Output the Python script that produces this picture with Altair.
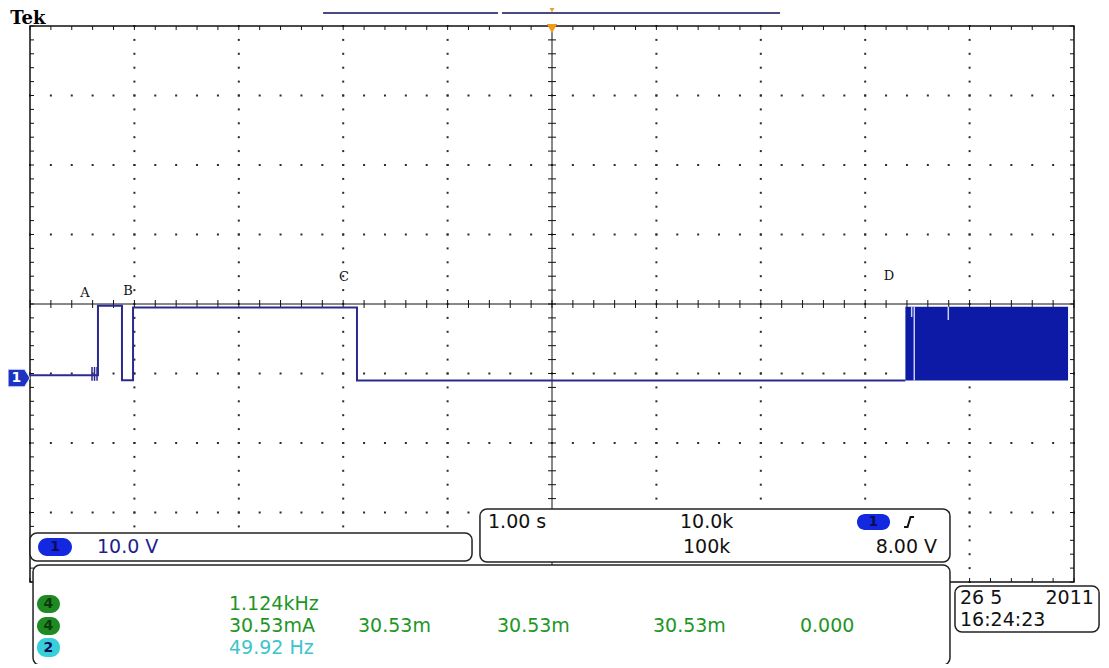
import altair as alt
import pandas as pd

# ---------------- scales (1 s/div, 10 V/div, ground 1.04 div below centre) ----------------
T_MIN, T_MAX = 0.0, 10.0
V_MIN, V_MAX = -29.64, 50.36
T_CENTRE = 5.0
V_CENTRE = 10.36

# ---------------- channel 1 waveform ----------------
trace_t = [0.0, 0.651, 0.651, 0.881, 0.881, 0.987, 0.987, 3.132, 3.132, 8.385]
trace_v = [0.1, 0.1, 10.1, 10.1, -0.6, -0.6, 9.85, 9.85, -0.65, -0.65]

glitch_t = [0.594, 0.618, 0.642]
glitch_lo = [-0.7, -0.7, -0.7]
glitch_hi = [1.3, 1.3, 1.3]

noise_t = [8.385]
noise_t2 = [9.943]
noise_lo = [-0.65]
noise_hi = [9.97]

gap_t = [8.445, 8.470, 8.796]
gap_lo = [8.49, -0.65, 8.06]
gap_hi = [9.97, 9.97, 9.97]

marker_labels = ["A", "B", "C", "D"]
marker_t = [0.527, 0.939, 3.008, 8.228]
marker_v = [11.94, 12.23, 14.24, 14.39]

# ---------------- readout texts ----------------
box_t = [0.0, 4.310, 0.029, 8.860]
box_t2 = [4.234, 8.812, 8.812, 10.240]
box_v = [-22.59, -19.14, -27.19, -30.22]
box_v2 = [-26.62, -26.76, -41.58, -36.83]

oval_t = [0.077, 7.921, 0.067, 0.067, 0.067]
oval_t2 = [0.402, 8.238, 0.287, 0.287, 0.287]
oval_v = [-23.31, -19.86, -31.51, -34.68, -37.70]
oval_v2 = [-25.90, -22.16, -34.10, -37.27, -40.43]
oval_fill = ["#1428e0", "#1428e0", "#1e8a22", "#1e8a22", "#38d0d8"]
oval_text = ["1", "1", "4", "4", "2"]
oval_text_col = ["#0c0c5a", "#0c0c5a", "#0a3a0c", "#0a3a0c", "#0c0c5a"]

left_text = ["10.0 V", "1.00 s", "10.0k", "100k",
             "1.124kHz", "30.53mA", "30.53m", "30.53m", "30.53m", "0.000",
             "49.92 Hz", "26 5", "16:24:23"]
left_t = [0.642, 4.387, 6.226, 6.255,
          1.906, 1.906, 3.142, 4.473, 5.967, 7.375,
          1.906, 8.908, 8.908]
left_v = [-24.6, -21.01, -21.01, -24.6,
          -32.81, -35.97, -35.97, -35.97, -35.97, -35.97,
          -39.07, -31.94, -35.11]
left_col = ["#1e1e8c", "#111111", "#111111", "#111111",
            "#1e9626", "#1e9626", "#1e9626", "#1e9626", "#1e9626", "#1e9626",
            "#3cc4cc", "#111111", "#111111"]

right_text = ["8.00 V", "2011"]
right_t = [8.688, 10.190]
right_v = [-24.6, -31.94]

# top record-length bar
bar_t = [2.807, 4.521]
bar_t2 = [4.483, 7.184]
bar_v = [52.23, 52.23]

# ---------------- graticule ----------------
minor_t = [i * 0.2 for i in range(51)]
minor_v = [V_MIN + j * 2.0 for j in range(41)]
major_t = [1, 2, 3, 4, 6, 7, 8, 9]
major_v = [V_MIN + 10.0 * k for k in (1, 2, 3, 5, 6, 7)]


def X(f="t"):
    return alt.X(f"{f}:Q", scale=alt.Scale(domain=[T_MIN, T_MAX], nice=False, zero=False), axis=None)


def Y(f="v"):
    return alt.Y(f"{f}:Q", scale=alt.Scale(domain=[V_MIN, V_MAX], nice=False, zero=False), axis=None)


def pts(ts, vs):
    return pd.DataFrame({"t": ts, "v": vs})


dots = pd.concat([
    pts([t for v in major_v for t in minor_t], [v for v in major_v for t in minor_t]),
    pts([t for t in major_t for v in minor_v], [v for t in major_t for v in minor_v]),
])

layers = []

# dotted grid
layers.append(alt.Chart(dots).mark_square(size=4, color="#2a2a2a", opacity=1).encode(x=X(), y=Y()))

# centre axes and border
layers.append(alt.Chart(pd.DataFrame({"t": [T_CENTRE], "v": [V_MIN], "v2": [V_MAX]}))
              .mark_rule(color="#111111", strokeWidth=1).encode(x=X(), y=Y(), y2="v2:Q"))
layers.append(alt.Chart(pd.DataFrame({"t": [T_MIN], "t2": [T_MAX], "v": [V_CENTRE]}))
              .mark_rule(color="#111111", strokeWidth=1).encode(x=X(), x2="t2:Q", y=Y()))
layers.append(alt.Chart(pd.DataFrame({"t": [T_MIN], "t2": [T_MAX], "v": [V_MIN], "v2": [V_MAX]}))
              .mark_rect(fillOpacity=0, stroke="#111111", strokeWidth=1.5)
              .encode(x=X(), x2="t2:Q", y=Y(), y2="v2:Q"))


def ticks(df, path, size):
    return alt.Chart(df).mark_point(shape=path, filled=False, color="#111111", strokeWidth=1,
                                    size=size, opacity=1).encode(x=X(), y=Y())


layers.append(ticks(pts(minor_t, [V_CENTRE] * len(minor_t)), "M0,-1L0,1", 64))
layers.append(ticks(pts([T_CENTRE] * len(minor_v), minor_v), "M-1,0L1,0", 64))
layers.append(ticks(pts(minor_t, [V_MAX] * len(minor_t)), "M0,0L0,2", 16))
layers.append(ticks(pts(minor_t, [V_MIN] * len(minor_t)), "M0,0L0,-2", 16))
layers.append(ticks(pts([T_MIN] * len(minor_v), minor_v), "M0,0L2,0", 16))
layers.append(ticks(pts([T_MAX] * len(minor_v), minor_v), "M0,0L-2,0", 16))

# waveform
trace_df = pd.DataFrame({"t": trace_t, "v": trace_v, "o": list(range(len(trace_t)))})
layers.append(alt.Chart(trace_df).mark_line(color="#2a2a92", strokeWidth=2)
              .encode(x=X(), y=Y(), order="o:Q"))
layers.append(alt.Chart(pd.DataFrame({"t": glitch_t, "v": glitch_lo, "v2": glitch_hi}))
              .mark_rule(color="#2a2a92", strokeWidth=1.5).encode(x=X(), y=Y(), y2="v2:Q"))
layers.append(alt.Chart(pd.DataFrame({"t": noise_t, "t2": noise_t2, "v": noise_lo, "v2": noise_hi}))
              .mark_rect(color="#0c1aa6").encode(x=X(), x2="t2:Q", y=Y(), y2="v2:Q"))
layers.append(alt.Chart(pd.DataFrame({"t": gap_t, "v": gap_lo, "v2": gap_hi}))
              .mark_rule(color="#c8d0f0", strokeWidth=1.5).encode(x=X(), y=Y(), y2="v2:Q"))

layers.append(alt.Chart(pd.DataFrame({"t": marker_t, "v": marker_v, "label": marker_labels}))
              .mark_text(font="DejaVu Serif", fontSize=13, color="#111111", align="center", baseline="middle")
              .encode(x=X(), y=Y(), text="label:N"))

# top bar, trigger markers, title
layers.append(alt.Chart(pd.DataFrame({"t": bar_t, "t2": bar_t2, "v": bar_v}))
              .mark_rule(color="#4a4a80", strokeWidth=2).encode(x=X(), x2="t2:Q", y=Y()))
layers.append(alt.Chart(pts([T_CENTRE], [52.75])).mark_point(shape="triangle-down", filled=True,
              color="#e8a030", size=40, opacity=1).encode(x=X(), y=Y()))
layers.append(alt.Chart(pts([T_CENTRE], [50.0])).mark_point(shape="triangle-down", filled=True,
              color="#f09a20", size=110, opacity=1).encode(x=X(), y=Y()))
layers.append(alt.Chart(pd.DataFrame({"t": [-0.19], "v": [50.6], "label": ["Tek"]}))
              .mark_text(font="DejaVu Serif", fontWeight="bold", fontSize=18, color="#000000",
                         align="left", baseline="alphabetic")
              .encode(x=X(), y=Y(), text="label:N"))

# channel 1 ground marker
layers.append(alt.Chart(pts([-0.105], [-0.29])).mark_point(
    shape="M-1,-0.8L0.5,-0.8L1,0L0.5,0.8L-1,0.8Z", filled=True, color="#1c34c0",
    stroke="#e0e0ff", strokeWidth=1, size=480, opacity=1).encode(x=X(), y=Y()))
layers.append(alt.Chart(pd.DataFrame({"t": [-0.13], "v": [-0.29], "label": ["1"]}))
              .mark_text(font="DejaVu Sans", fontWeight="bold", fontSize=14, color="#ffffff",
                         align="center", baseline="middle")
              .encode(x=X(), y=Y(), text="label:N"))

# readout boxes
layers.append(alt.Chart(pd.DataFrame({"t": box_t, "t2": box_t2, "v": box_v, "v2": box_v2}))
              .mark_rect(cornerRadius=7, fill="#ffffff", stroke="#222222", strokeWidth=1.5)
              .encode(x=X(), x2="t2:Q", y=Y(), y2="v2:Q"))
oval_df = pd.DataFrame({"t": oval_t, "t2": oval_t2, "v": oval_v, "v2": oval_v2, "fill": oval_fill,
                        "label": oval_text, "tc": oval_text_col,
                        "tm": [(a + b) / 2 for a, b in zip(oval_t, oval_t2)],
                        "vm": [(a + b) / 2 for a, b in zip(oval_v, oval_v2)]})
layers.append(alt.Chart(oval_df).mark_rect(cornerRadius=9)
              .encode(x=X(), x2="t2:Q", y=Y(), y2="v2:Q", color=alt.Color("fill:N", scale=None)))
layers.append(alt.Chart(oval_df).mark_text(font="DejaVu Sans", fontWeight="bold", fontSize=14,
                                           align="center", baseline="middle")
              .encode(x=X("tm"), y=Y("vm"), text="label:N", color=alt.Color("tc:N", scale=None)))

# rising-edge trigger symbol
layers.append(alt.Chart(pts([8.420], [-21.01])).mark_point(
    shape="M-1,1L-0.3,1L0.3,-1L1,-1", filled=False, color="#111111", strokeWidth=2,
    size=100, opacity=1).encode(x=X(), y=Y()))

layers.append(alt.Chart(pd.DataFrame({"t": left_t, "v": left_v, "label": left_text, "c": left_col}))
              .mark_text(font="DejaVu Sans", fontSize=19, align="left", baseline="middle")
              .encode(x=X(), y=Y(), text="label:N", color=alt.Color("c:N", scale=None)))
layers.append(alt.Chart(pd.DataFrame({"t": right_t, "v": right_v, "label": right_text}))
              .mark_text(font="DejaVu Sans", fontSize=19, align="right", baseline="middle", color="#111111")
              .encode(x=X(), y=Y(), text="label:N"))

chart = alt.layer(*layers).properties(
    width=1044, height=556,
    autosize=alt.AutoSizeParams(type="none"),
    padding={"left": 22, "top": 18, "right": 26, "bottom": 82},
    background="#ffffff",
).configure_view(strokeWidth=0)

chart.save("out.html", embed_options={"renderer": "svg", "actions": False})
